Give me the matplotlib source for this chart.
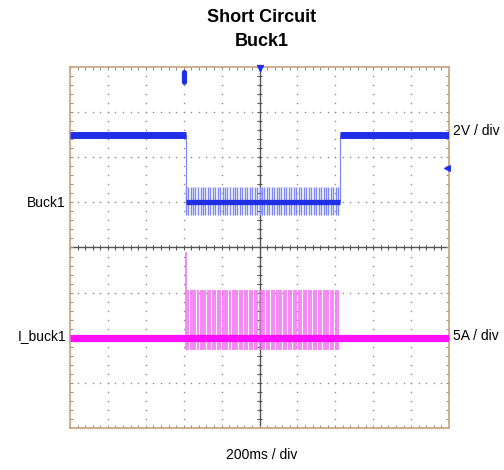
import numpy as np
import matplotlib
matplotlib.use("Agg")
import matplotlib.pyplot as plt
from matplotlib.patches import FancyBboxPatch

# ---- data (in screen divisions: x 0..10, y -4..4) ----
buck_t = [0.0, 3.05, 3.05, 7.12, 7.12, 10.0]
buck_v = [2.5, 2.5, 1.0, 1.0, 2.5, 2.5]
i_base = -2.0
pulse_t = [3.05, 3.12, 3.18, 3.25, 3.31, 3.37, 3.45, 3.51, 3.57, 3.64, 3.70, 3.77,
           3.83, 3.90, 3.96, 4.03, 4.09, 4.15, 4.22, 4.29, 4.35, 4.41, 4.48, 4.55,
           4.61, 4.67, 4.74, 4.80, 4.87, 4.93, 5.00, 5.06, 5.13, 5.19, 5.26, 5.32,
           5.39, 5.45, 5.52, 5.58, 5.65, 5.71, 5.78, 5.84, 5.91, 5.97, 6.04, 6.10,
           6.17, 6.23, 6.30, 6.36, 6.43, 6.49, 6.56, 6.62, 6.69, 6.75, 6.82, 6.88,
           6.95, 7.01, 7.07]
i_pulse_hi = [1.9] + [1.05] * (len(pulse_t) - 1)
i_pulse_lo = -0.27
buck_ripple_hi = 0.35
buck_ripple_lo = -0.27

BLUE = "#1f2fe6"
LBLUE = "#7f88f0"
MAG = "#ff10ff"
LMAG = "#f26af2"
FRAME = "#c9a27c"
GRID = "#8a8a8a"

plt.rcParams['font.family'] = ['Liberation Sans Narrow', 'Liberation Sans', 'DejaVu Sans']

fig = plt.figure(figsize=(5.04, 4.70), dpi=100)
ax = fig.add_axes([70/504, 1-428/470, 379/504, 361/470])
ax.set_xlim(0, 10)
ax.set_ylim(-4, 4)
ax.set_xticks([]); ax.set_yticks([])
for s in ax.spines.values():
    s.set_color(FRAME); s.set_linewidth(1.2)

# grid dots
minor_x = np.arange(0, 10.01, 0.2)
minor_y = np.arange(-4, 4.01, 0.2)
for gx in range(1, 10):
    if gx == 5:
        continue
    ax.scatter([gx]*len(minor_y), minor_y, s=1.2, color=GRID, lw=0, zorder=1)
for gy in range(-3, 4):
    if gy == 0:
        continue
    ax.scatter(minor_x, [gy]*len(minor_x), s=1.2, color=GRID, lw=0, zorder=1)
# center cross
ax.axvline(5, color="#555555", lw=1.0, zorder=1)
ax.axhline(0, color="#555555", lw=1.0, zorder=1)
ax.vlines(minor_x, -0.05, 0.05, color="#555555", lw=0.8, zorder=1)
ax.hlines(minor_y, 4.93, 5.07, color="#555555", lw=0.8, zorder=1)
# edge ticks
ax.vlines(minor_x, 4 - 0.07, 4, color=GRID, lw=0.7, zorder=1)
ax.vlines(minor_x, -4, -4 + 0.07, color=GRID, lw=0.7, zorder=1)
ax.hlines(minor_y, 0, 0.08, color=GRID, lw=0.7, zorder=1)
ax.hlines(minor_y, 10 - 0.08, 10, color=GRID, lw=0.7, zorder=1)

# Buck1 ripple pulses
ax.vlines(pulse_t, 1.0 + buck_ripple_lo, 1.0 + buck_ripple_hi, color=LBLUE, lw=1.0, zorder=2)
# Buck1 trace
ax.plot(buck_t[1:3], buck_v[1:3], color=LBLUE, lw=0.9, zorder=3)
ax.plot(buck_t[3:5], buck_v[3:5], color=LBLUE, lw=0.9, zorder=3)
for k, w in ((0, 5.0), (2, 3.8), (4, 5.0)):
    ax.plot(buck_t[k:k+2], buck_v[k:k+2], color=BLUE, lw=w, solid_capstyle='butt', zorder=4)

# current pulses
ax.vlines(pulse_t, i_base + i_pulse_lo, [i_base + h for h in i_pulse_hi], color=LMAG, lw=1.1, zorder=2)
ax.plot([0, 10], [i_base, i_base], color=MAG, lw=5.2, solid_capstyle='butt', zorder=4)

# markers
ax.add_patch(FancyBboxPatch((2.97, 3.62), 0.1, 0.3, boxstyle="round,pad=0,rounding_size=0.05",
                            facecolor=BLUE, edgecolor=BLUE, zorder=5, clip_on=False))
ax.scatter([5], [3.98], marker='v', s=18, color=BLUE, zorder=5, clip_on=False)
ax.scatter([9.94], [1.77], marker='<', s=16, color=BLUE, zorder=5, clip_on=False)

# texts
fig.text(262/504, 1-17/470, "Short Circuit", ha='center', va='center', fontsize=13, fontweight='bold')
fig.text(262/504, 1-42/470, "Buck1", ha='center', va='center', fontsize=13, fontweight='bold')
fig.text(66/504, 1-203/470, "Buck1", ha='right', va='center', fontsize=10)
fig.text(66/504, 1-336/470, "I_buck1", ha='right', va='center', fontsize=10)
fig.text(453/504, 1-131/470, "2V / div", ha='left', va='center', fontsize=10)
fig.text(453/504, 1-336/470, "5A / div", ha='left', va='center', fontsize=10)
fig.text(262/504, 1-455/470, "200ms / div", ha='center', va='center', fontsize=10)

fig.savefig("out.png", dpi=100)
